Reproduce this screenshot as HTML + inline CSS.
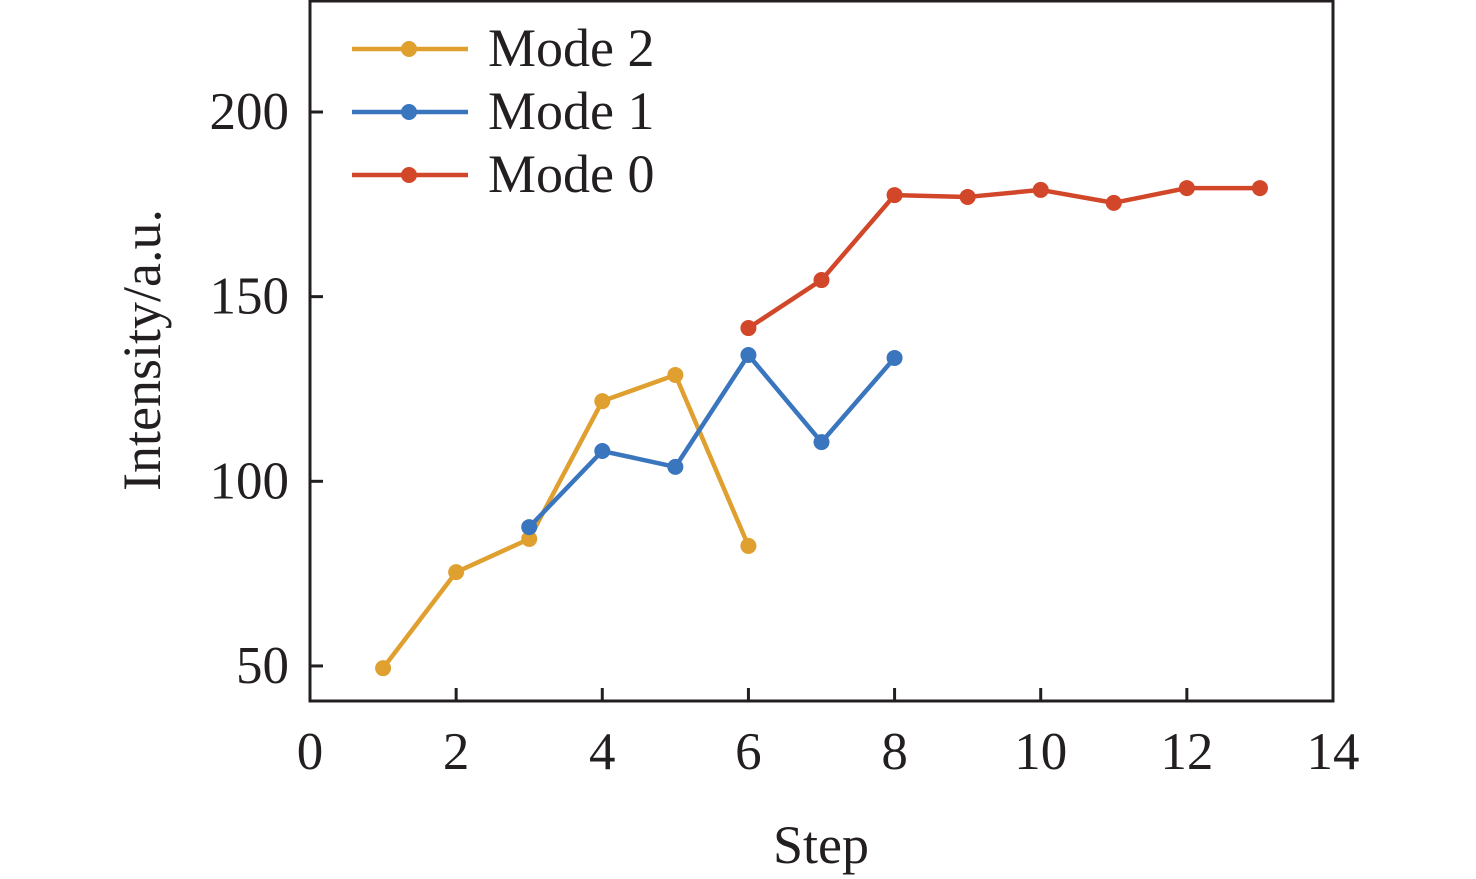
<!DOCTYPE html>
<html><head><meta charset="utf-8"><style>
body{margin:0;background:#fff}
svg{display:block;font-family:"Liberation Serif",serif}
</style></head><body>
<svg id="c" width="1476" height="879"></svg>
<script>
const xTicks=[0,2,4,6,8,10,12,14];
const yTicks=[50,100,150,200];
const mode2X=[1,2,3,4,5,6];
const mode2Y=[49.4,75.4,84.4,121.7,128.8,82.5];
const mode1X=[3,4,5,6,7,8];
const mode1Y=[87.6,108.2,103.9,134.2,110.6,133.4];
const mode0X=[6,7,8,9,10,11,12,13];
const mode0Y=[141.5,154.5,177.5,177,178.9,175.4,179.4,179.4];
const L=310,R=1333,T=1,B=701;
const X=v=>L+(v-0)*(R-L)/14;
const Y=v=>112+(200-v)*3.693;
const svg=document.getElementById('c');
const NS='http://www.w3.org/2000/svg';
function mk(t,a,p){const e=document.createElementNS(NS,t);for(const k in a)e.setAttribute(k,a[k]);(p||svg).appendChild(e);return e;}
const frame=mk('rect',{x:L,y:T,width:R-L,height:B-T,fill:'none',stroke:'#231f20','stroke-width':3});


xTicks.forEach(t=>{
 const l=mk('line',{x1:X(t),x2:X(t),y1:B,y2:B-13,stroke:'#231f20','stroke-width':3});
 
 
 const tx=mk('text',{x:X(t),y:769,'text-anchor':'middle','font-size':53,fill:'#231f20'});tx.textContent=t;
 
 
});
yTicks.forEach(t=>{
 const l=mk('line',{x1:L,x2:L+13,y1:Y(t),y2:Y(t),stroke:'#231f20','stroke-width':3});
 
 
 const tx=mk('text',{x:289,y:Y(t)+17,'text-anchor':'end','font-size':53,fill:'#231f20'});tx.textContent=t;
 
 
});
const xt=mk('text',{x:821,y:863,'text-anchor':'middle','font-size':54,fill:'#231f20'});xt.textContent='Step';


const yt=mk('text',{x:0,y:0,'text-anchor':'middle','font-size':54,fill:'#231f20',transform:'translate(160,350) rotate(-90)'});yt.textContent='Intensity/a.u.';


function series(xs,ys,col,name){
 const g=mk('g',{});
 
 
 const pl=mk('polyline',{points:xs.map((x,i)=>X(x)+','+Y(ys[i])).join(' '),fill:'none',stroke:col,'stroke-width':4.5,'stroke-linejoin':'round'},g);
 
 
 xs.forEach((x,i)=>{const c=mk('circle',{cx:X(x),cy:Y(ys[i]),r:8,fill:col},g);
  
  });
}
const C2='#E0A030',C1='#3A76BE',C0='#D2472A';
series(mode2X,mode2Y,C2,'mode-2');
series(mode1X,mode1Y,C1,'mode-1');
series(mode0X,mode0Y,C0,'mode-0');
[['Mode 2',C2,49],['Mode 1',C1,112],['Mode 0',C0,175]].forEach(([n,c,y])=>{
 const g=mk('g',{});
 
 
 mk('line',{x1:352,x2:468,y1:y,y2:y,stroke:c,'stroke-width':4.5},g);
 mk('circle',{cx:409,cy:y,r:8,fill:c},g);
 const t=mk('text',{x:488,y:y+17,'font-size':54,fill:'#231f20'},g);t.textContent=n;
});
</script>
</body></html>
